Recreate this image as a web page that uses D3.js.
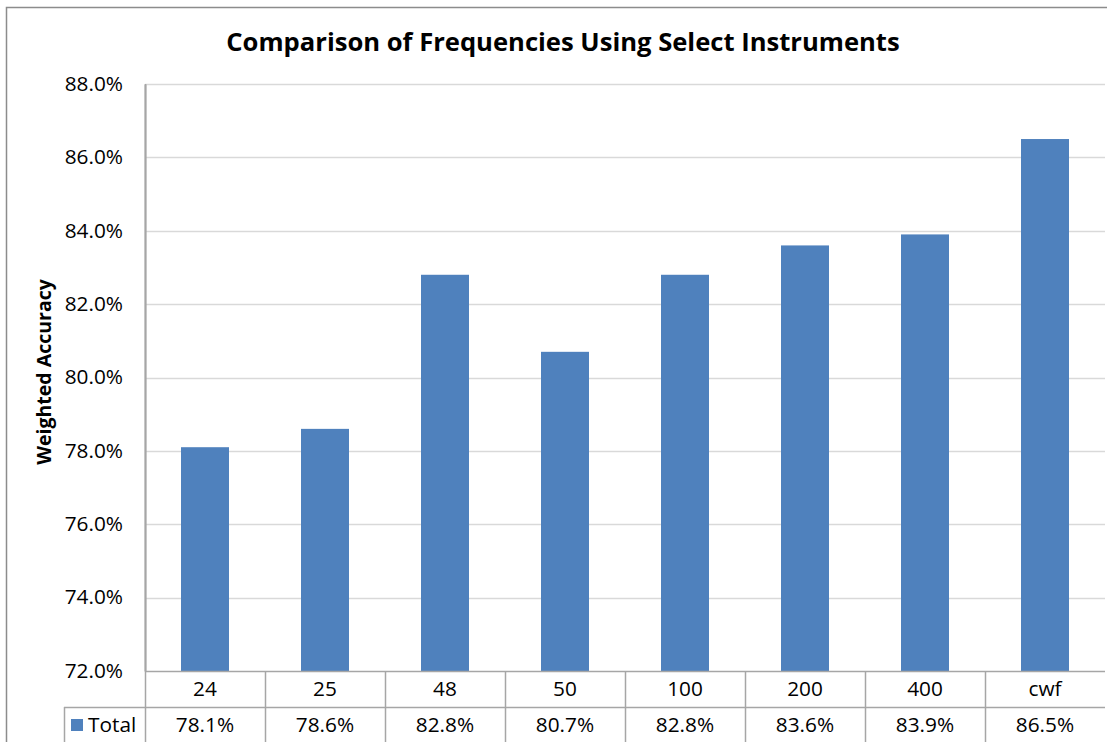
<!DOCTYPE html>
<html>
<head>
<meta charset="utf-8">
<script src="https://cdn.jsdelivr.net/npm/d3@7"></script>
<style>
  html, body { margin: 0; padding: 0; background: #fff; }
  svg { display: block; }
  text { font-family: "Open Sans", "Noto Sans", sans-serif; fill: #000; }
</style>
</head>
<body>
<svg id="chart" width="1107" height="742"></svg>
<script>
// Chart data
const categories = ["24", "25", "48", "50", "100", "200", "400", "cwf"];
const totals = [78.1, 78.6, 82.8, 80.7, 82.8, 83.6, 83.9, 86.5];
const yTicks = [72, 74, 76, 78, 80, 82, 84, 86, 88];
const seriesName = "Total";
const chartTitle = "Comparison of Frequencies Using Select Instruments";
const yTitle = "Weighted Accuracy";

const W = 1107, H = 742;
const plot = { left: 145, right: 1105, top: 84, bottom: 671 };
const rowH = 36;
const legendLeft = 64;
const barColor = "#4F81BD";
const gridColor = "#d9d9d9";
const tableColor = "#a6a6a6";
const labelSize = "20.8px";

const svg = d3.select("#chart");

// outer chart frame
svg.append("rect")
  .attr("x", 6.5).attr("y", 7.5)
  .attr("width", W + 10).attr("height", H + 10)
  .attr("fill", "#fff").attr("stroke", "#8c8c8c").attr("stroke-width", 1.5);

const x = d3.scaleBand().domain(categories).range([plot.left, plot.right]).paddingInner(0.6).paddingOuter(0.3);
const xCell = d3.scaleBand().domain(categories).range([plot.left, plot.right]);
const y = d3.scaleLinear().domain([72, 88]).range([plot.bottom, plot.top]);

const fmt = d => d.toFixed(1) + "%";

// gridlines
svg.append("g")
  .selectAll("line").data(yTicks.slice(1)).join("line")
  .attr("x1", plot.left).attr("x2", plot.right)
  .attr("y1", d => Math.round(y(d)) + 0.5).attr("y2", d => Math.round(y(d)) + 0.5)
  .attr("stroke", gridColor).attr("stroke-width", 1.3);

// y axis
const yAxis = svg.append("g")
  .attr("transform", `translate(${plot.left},0)`)
  .call(d3.axisLeft(y).tickValues(yTicks).tickFormat(fmt).tickSize(0).tickPadding(22));
yAxis.select(".domain").attr("stroke", tableColor).attr("stroke-width", 2);
yAxis.selectAll("text")
  .style("font-family", "'Open Sans', sans-serif")
  .style("font-size", labelSize).attr("fill", "#000").attr("dy", "0.3em");

// bars
svg.append("g")
  .selectAll("rect").data(totals).join("rect")
  .attr("x", (d, i) => x(categories[i]))
  .attr("width", x.bandwidth())
  .attr("y", d => y(d))
  .attr("height", d => y(72) - y(d))
  .attr("fill", barColor);

// data table beneath the plot
const table = svg.append("g");
const row1Top = plot.bottom, row2Top = plot.bottom + rowH, tableBottom = plot.bottom + rowH * 2 + 4;
const hline = (x1, x2, yy) => table.append("line")
  .attr("x1", x1).attr("x2", x2).attr("y1", yy).attr("y2", yy)
  .attr("stroke", tableColor).attr("stroke-width", 1.5);
const vline = (xx, y1, y2) => table.append("line")
  .attr("x1", xx).attr("x2", xx).attr("y1", y1).attr("y2", y2)
  .attr("stroke", tableColor).attr("stroke-width", 1.5);

hline(plot.left, plot.right, row1Top + 0.5);
hline(legendLeft, plot.right, row2Top + 0.5);
vline(legendLeft + 0.5, row2Top, tableBottom);
vline(plot.left + 0.5, plot.top, tableBottom);
categories.forEach((c, i) => {
  if (i > 0) vline(Math.round(xCell(c)) + 0.5, row1Top, tableBottom);
});

table.selectAll("text.cat").data(categories).join("text")
  .attr("class", "cat")
  .attr("x", d => xCell(d) + xCell.bandwidth() / 2)
  .attr("y", row1Top + rowH / 2)
  .attr("dy", "0.35em")
  .attr("text-anchor", "middle")
  .style("font-size", labelSize)
  .text(d => d);

table.selectAll("text.val").data(totals).join("text")
  .attr("class", "val")
  .attr("x", (d, i) => xCell(categories[i]) + xCell.bandwidth() / 2)
  .attr("y", row2Top + rowH / 2)
  .attr("dy", "0.35em")
  .attr("text-anchor", "middle")
  .style("font-size", labelSize)
  .text(d => fmt(d));

// legend key in the table row
table.append("rect")
  .attr("x", legendLeft + 7).attr("y", row2Top + 12)
  .attr("width", 12).attr("height", 12)
  .attr("fill", barColor);
table.append("text")
  .attr("x", legendLeft + 24).attr("y", row2Top + rowH / 2)
  .attr("dy", "0.35em")
  .style("font-size", labelSize)
  .text(seriesName);

// titles
svg.append("text")
  .attr("x", 563).attr("y", 42)
  .attr("dy", "0.35em")
  .attr("text-anchor", "middle")
  .style("font-size", "25.6px").style("font-weight", "bold")
  .text(chartTitle);

svg.append("text")
  .attr("transform", `translate(44,372) rotate(-90)`)
  .attr("dy", "0.35em")
  .attr("text-anchor", "middle")
  .style("font-size", "19.5px").style("font-weight", "bold")
  .text(yTitle);
</script>
</body>
</html>
